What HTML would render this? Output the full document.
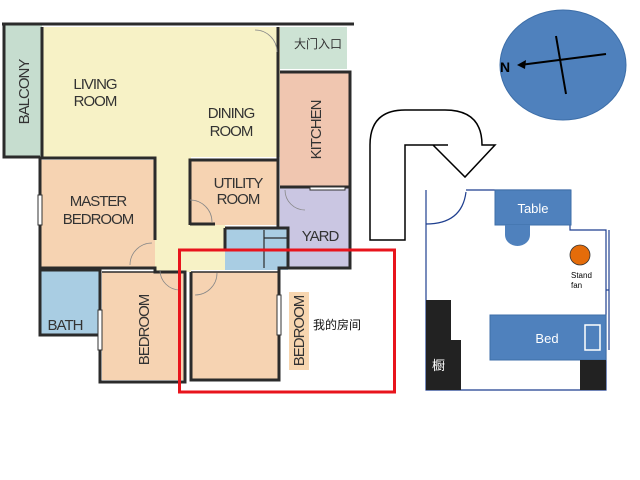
<!DOCTYPE html>
<html><head><meta charset="utf-8"><style>
html,body{margin:0;padding:0;background:#fff;}
svg{display:block;}
text{font-family:"Liberation Sans","Noto Sans CJK SC",sans-serif;}
</style></head><body>
<svg width="640" height="480" viewBox="0 0 640 480" xmlns="http://www.w3.org/2000/svg">
<rect x="4" y="25" width="38" height="132" fill="#c6ddcf"/>
<rect x="42" y="27" width="238" height="130" fill="#f7f2c6"/>
<rect x="155" y="157" width="36" height="115" fill="#f7f2c6"/>
<rect x="191" y="225" width="34" height="45" fill="#f7f2c6"/>
<rect x="280" y="27" width="67" height="42" fill="#cde3d4"/>
<rect x="280" y="72" width="70" height="116" fill="#f0c6b0"/>
<rect x="280" y="188" width="70" height="80" fill="#cac6e2"/>
<rect x="225" y="228" width="63" height="42" fill="#a9cde3"/>
<rect x="40" y="160" width="115" height="108" fill="#f6d3b2"/>
<rect x="190" y="160" width="88" height="65" fill="#f6d3b2"/>
<rect x="40" y="270" width="60" height="65" fill="#a9cde3"/>
<rect x="102" y="272" width="83" height="108" fill="#f6d3b2"/>
<rect x="191" y="272" width="88" height="108" fill="#f6d3b2"/>
<g stroke="#2b2b2b" stroke-width="3" fill="none">
<line x1="2" y1="24" x2="354" y2="24"/>
<polyline points="4,24 4,157 40,157"/>
<line x1="42" y1="27" x2="42" y2="157"/>
<polyline points="40,158 155,158 155,240"/>
<polyline points="40,158 40,270 100,270 100,335 40,335 40,270"/>
<polyline points="100,270 100,382 185,382 185,272 155,272 155,268 40,268"/>
<polyline points="191,272 191,380 279,380 279,268 350,268 350,72 280,72"/>
<line x1="278" y1="27" x2="278" y2="228"/>
<polyline points="190,225 190,160 278,160"/>
<line x1="190" y1="224" x2="215" y2="224"/>
<polyline points="225,228 288,228 288,268"/>
<line x1="225" y1="228" x2="225" y2="250"/>
<line x1="280" y1="187" x2="350" y2="187"/>
<line x1="191" y1="272" x2="279" y2="272" stroke-width="1.5"/>
<line x1="102" y1="272" x2="175" y2="272" stroke-width="1.5"/>
</g>
<g stroke="#2b2b2b" stroke-width="1.2" fill="none">
<line x1="264" y1="230" x2="264" y2="268"/>
<line x1="264" y1="238" x2="288" y2="238"/>
</g>
<g fill="#fff" stroke="#333" stroke-width="1">
<rect x="38" y="195" width="4" height="30"/><rect x="98" y="310" width="4" height="40"/>
<rect x="277" y="295" width="4" height="40"/><rect x="310" y="187" width="35" height="3"/>
</g>
<g stroke="#888" stroke-width="0.8" fill="none">
<path d="M255,30 A22,22 0 0 1 277,52"/>
<path d="M190,200 A22,22 0 0 1 212,222"/>
<path d="M130,265 A22,22 0 0 1 152,243"/>
<path d="M160,270 A20,20 0 0 0 180,290"/>
<path d="M195,295 A22,22 0 0 0 217,273"/>
<path d="M285,190 A20,20 0 0 0 305,210"/>
</g>
<g font-size="15" fill="#333" text-anchor="middle" letter-spacing="-1">
<text x="95" y="89">LIVING</text><text x="95" y="106">ROOM</text>
<text x="231" y="118">DINING</text><text x="231" y="136">ROOM</text>
<text x="238" y="188">UTILITY</text><text x="238" y="204">ROOM</text>
<text x="98" y="206">MASTER</text><text x="98" y="224">BEDROOM</text>
<text x="320" y="241">YARD</text>
<text x="65" y="330">BATH</text>
<text transform="translate(29,92) rotate(-90)">BALCONY</text>
<text transform="translate(321,130) rotate(-90)">KITCHEN</text>
<text transform="translate(149,330) rotate(-90)">BEDROOM</text>
</g>
<rect x="289" y="292" width="20" height="78" fill="#f7d6b0"/>
<text transform="translate(304,331) rotate(-90)" font-size="15" fill="#333" text-anchor="middle" letter-spacing="-1">BEDROOM</text>
<text x="294" y="48" font-size="12" fill="#333">大门入口</text>
<text x="313" y="329" font-size="12" fill="#111">我的房间</text>
<rect x="179.5" y="250" width="215" height="142" fill="none" stroke="#e8141c" stroke-width="3"/>
<ellipse cx="563" cy="65" rx="63" ry="55" fill="#4f81bd" stroke="#3d6ea8"/>
<line x1="556" y1="36" x2="566" y2="94" stroke="#000" stroke-width="2"/>
<line x1="606" y1="54" x2="520" y2="65" stroke="#000" stroke-width="2"/>
<path d="M517,65 L526,60 L525,69 Z" fill="#000"/>
<text x="500" y="72" font-size="14" font-weight="bold" fill="#000">N</text>
<path d="M370,240 L370,145 Q370,110 405,110 L445,110 Q482,110 482,145 L495,145 L465,177 L433,145 L448,145 L405,145 L405,240 Z" fill="#fff" stroke="#000" stroke-width="1.5"/>
<g stroke="#1f3f8f" stroke-width="1.2" fill="none">
<polyline points="426,190 426,390 606,390 606,230 570,230 570,190 466,190"/>
<line x1="609" y1="230" x2="609" y2="350"/>
<line x1="606" y1="290" x2="609" y2="290"/>
<path d="M426,224 Q462,224 466,192"/>
</g>
<rect x="495" y="190" width="76" height="35" fill="#4f81bd" stroke="#3d6ea8"/>
<text x="533" y="213" font-size="13" fill="#fff" text-anchor="middle">Table</text>
<path d="M505,225 L530,225 L530,235 A12.5,11 0 0 1 505,235 Z" fill="#4f81bd"/>
<circle cx="580" cy="255" r="10" fill="#e46c0a" stroke="#333" stroke-width="0.8"/>
<text x="571" y="278" font-size="8" fill="#000">Stand</text>
<text x="571" y="288" font-size="8" fill="#000">fan</text>
<rect x="426" y="300" width="25" height="40" fill="#222"/>
<rect x="426" y="340" width="35" height="50" fill="#222"/>
<text x="432" y="370" font-size="13" fill="#fff">橱</text>
<rect x="490" y="315" width="116" height="45" fill="#4f81bd" stroke="#3d6ea8"/>
<text x="547" y="343" font-size="13" fill="#fff" text-anchor="middle">Bed</text>
<rect x="585" y="325" width="15" height="25" fill="none" stroke="#fff" stroke-width="1.5"/>
<rect x="580" y="360" width="26" height="30" fill="#222"/>
</svg>
</body></html>
